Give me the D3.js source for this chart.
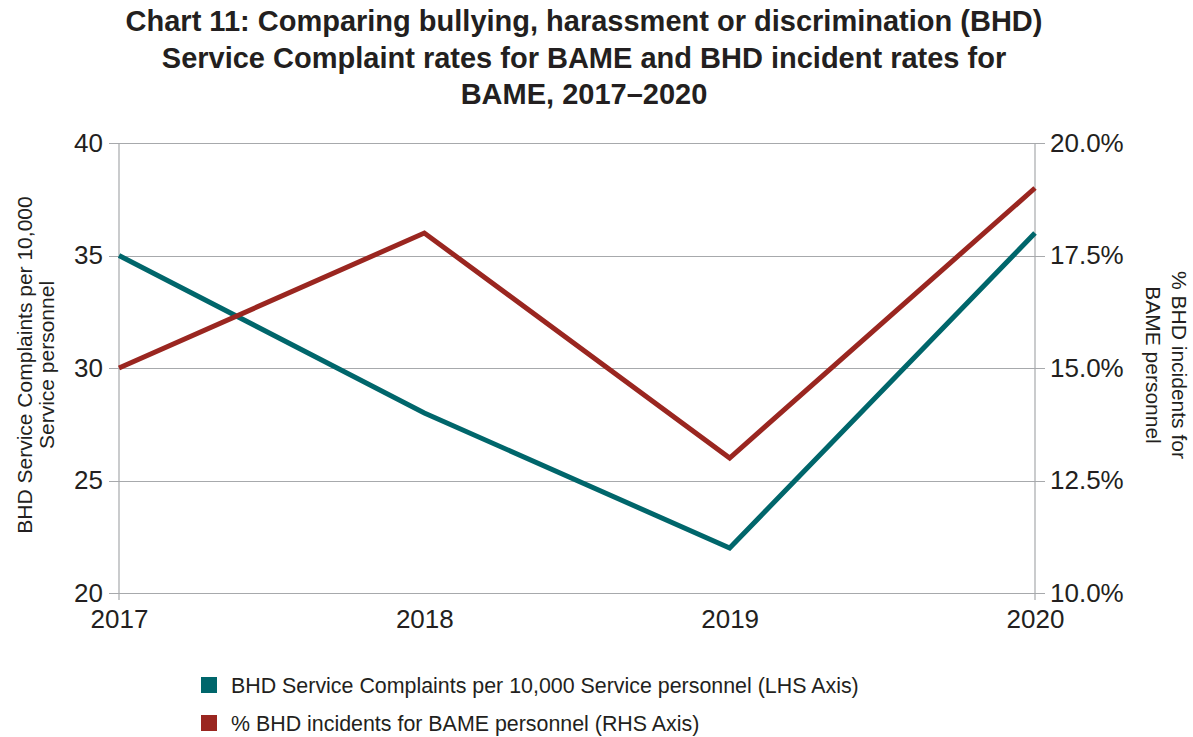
<!DOCTYPE html>
<meta charset="utf-8">
<style>
    body {
        margin: 0;
        background: #fff;
        font-family: "Liberation Sans", Arial, sans-serif;
    }

    .title {
        font-weight: bold;
        font-size: 29px;
        fill: #231f20;
    }

    .tick text {
        fill: #231f20;
        font-size: 26px;
    }

    .axis-title {
        font-size: 21px;
        fill: #231f20;
    }

    .legend text {
        font-size: 21.4px;
        fill: #231f20;
    }
</style>

<body>
    <script src="https://d3js.org/d3.v7.min.js"></script>
    <script>
        // data
        var years = ["2017", "2018", "2019", "2020"];
        var complaints = [35, 28, 22, 36];          // per 10,000 Service personnel (LHS)
        var incidentPct = [0.15, 0.18, 0.13, 0.19];  // % BHD incidents for BAME (RHS)
        var leftTicks = [20, 25, 30, 35, 40];
        var rightTicks = [0.10, 0.125, 0.15, 0.175, 0.20];
        var seriesNames = [
            "BHD Service Complaints per 10,000 Service personnel (LHS Axis)",
            "% BHD incidents for BAME personnel (RHS Axis)"
        ];
        var titleLines = [
            "Chart 11: Comparing bullying, harassment or discrimination (BHD)",
            "Service Complaint rates for BAME and BHD incident rates for",
            "BAME, 2017\u20132020"
        ];

        var teal = "#00666b",
            red = "#9a2620",
            gridColor = "#a7a9ac";

        var W = 1193, H = 737;
        var margin = { top: 143, right: 158, bottom: 144, left: 119 },
            width = W - margin.left - margin.right,
            height = H - margin.top - margin.bottom;

        var svg = d3.select("body").append("svg")
            .attr("width", W)
            .attr("height", H);

        // title
        svg.append("g").selectAll("text")
            .data(titleLines)
            .enter().append("text")
            .attr("class", "title")
            .attr("x", 584)
            .attr("y", function(d, i) { return 31 + i * 36.5; })
            .attr("text-anchor", "middle")
            .text(function(d) { return d; });

        var g = svg.append("g")
            .attr("transform", "translate(" + margin.left + "," + margin.top + ")");

        var x = d3.scalePoint().domain(years).range([0, width]);
        var yL = d3.scaleLinear().domain([20, 40]).range([height, 0]);
        var yR = d3.scaleLinear().domain([0.10, 0.20]).range([height, 0]);

        // horizontal grid lines
        g.append("g").selectAll("line")
            .data(leftTicks)
            .enter().append("line")
            .attr("x1", -10)
            .attr("x2", width + 10)
            .attr("y1", function(d) { return Math.round(yL(d)) + 0.5; })
            .attr("y2", function(d) { return Math.round(yL(d)) + 0.5; })
            .attr("stroke", gridColor)
            .attr("stroke-width", 1.2);

        // vertical axis lines
        g.append("g").selectAll("line")
            .data([0, width])
            .enter().append("line")
            .attr("x1", function(d) { return d; })
            .attr("x2", function(d) { return d; })
            .attr("y1", 0)
            .attr("y2", height + 7)
            .attr("stroke", gridColor)
            .attr("stroke-width", 1.2);

        // axes (labels only)
        var leftAxis = g.append("g")
            .call(d3.axisLeft(yL).tickValues(leftTicks).tickSize(0).tickPadding(16));
        var rightAxis = g.append("g")
            .attr("transform", "translate(" + width + ",0)")
            .call(d3.axisRight(yR).tickValues(rightTicks).tickSize(0).tickPadding(15)
                .tickFormat(d3.format(".1%")));
        var bottomAxis = g.append("g")
            .attr("transform", "translate(0," + height + ")")
            .call(d3.axisBottom(x).tickSize(0).tickPadding(17));
        [leftAxis, rightAxis, bottomAxis].forEach(function(a) {
            a.select(".domain").remove();
            a.attr("font-family", null).attr("font-size", null);
        });

        // axis titles
        svg.append("text")
            .attr("class", "axis-title")
            .attr("transform", "translate(32,365) rotate(-90)")
            .attr("text-anchor", "middle")
            .selectAll("tspan")
            .data(["BHD Service Complaints per 10,000", "Service personnel"])
            .enter().append("tspan")
            .attr("x", 0)
            .attr("dy", function(d, i) { return i === 0 ? 0 : 22; })
            .text(function(d) { return d; });

        svg.append("text")
            .attr("class", "axis-title")
            .attr("transform", "translate(1172,365) rotate(90)")
            .attr("text-anchor", "middle")
            .selectAll("tspan")
            .data(["% BHD incidents for", "BAME personnel"])
            .enter().append("tspan")
            .attr("x", 0)
            .attr("dy", function(d, i) { return i === 0 ? 0 : 26; })
            .text(function(d) { return d; });

        // lines
        var lineL = d3.line()
            .x(function(d, i) { return x(years[i]); })
            .y(function(d) { return yL(d); });
        var lineR = d3.line()
            .x(function(d, i) { return x(years[i]); })
            .y(function(d) { return yR(d); });

        g.append("path")
            .datum(complaints)
            .attr("d", lineL)
            .attr("fill", "none")
            .attr("stroke", teal)
            .attr("stroke-width", 5)
            .attr("stroke-linejoin", "miter");

        g.append("path")
            .datum(incidentPct)
            .attr("d", lineR)
            .attr("fill", "none")
            .attr("stroke", red)
            .attr("stroke-width", 5)
            .attr("stroke-linejoin", "miter");

        // legend
        var legend = svg.append("g")
            .attr("class", "legend")
            .selectAll("g")
            .data(seriesNames)
            .enter().append("g")
            .attr("transform", function(d, i) {
                return "translate(201," + (677 + i * 38) + ")";
            });

        legend.append("rect")
            .attr("width", 16)
            .attr("height", 16)
            .attr("fill", function(d, i) { return i === 0 ? teal : red; });

        legend.append("text")
            .attr("x", 30)
            .attr("y", 8)
            .attr("dy", "0.35em")
            .text(function(d) { return d; });
    </script>
</body>
